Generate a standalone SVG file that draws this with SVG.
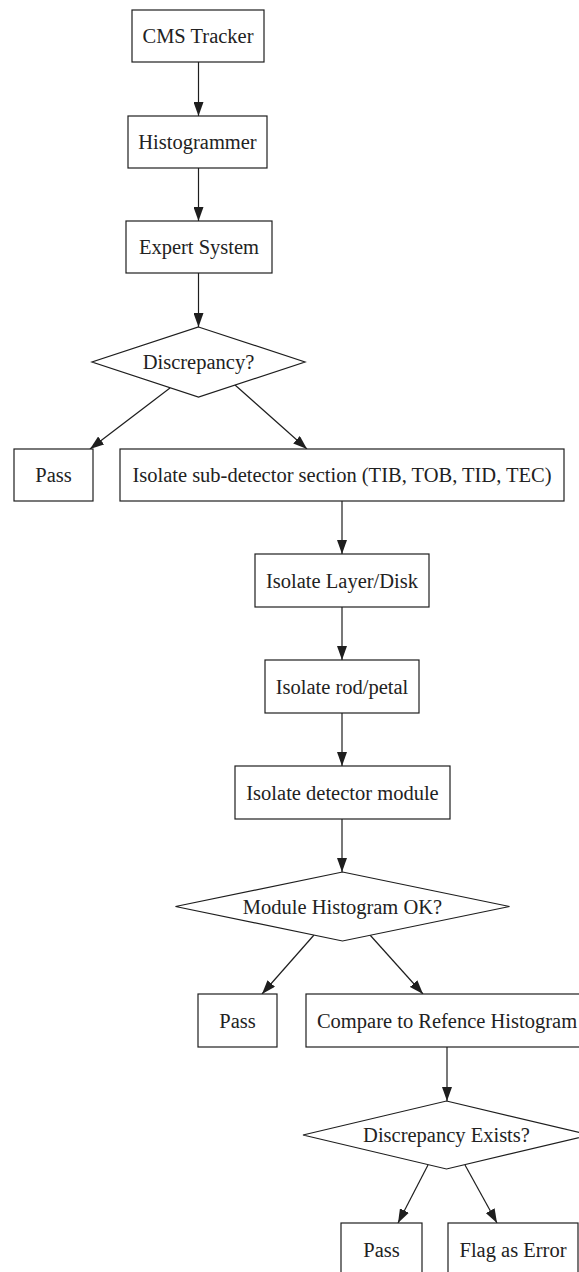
<svg xmlns="http://www.w3.org/2000/svg" width="579" height="1272" viewBox="0 0 579 1272">
  <style>
    .node rect, .node polygon { fill: #ffffff; stroke: #1e1e1e; stroke-width: 1.2; }
    .node text { font-family: "Liberation Serif", "Times New Roman", serif; font-size: 20.5px; fill: #222222; text-anchor: middle; }
    .edges line { stroke: #1e1e1e; stroke-width: 1.2; marker-end: url(#arrow); }
  </style>
  <defs>
    <marker id="arrow" markerUnits="userSpaceOnUse" markerWidth="14" markerHeight="10" refX="14" refY="5" orient="auto">
      <path d="M0,0 L14,5 L0,10 z" fill="#1e1e1e"/>
    </marker>
  </defs>
  <rect width="579" height="1272" fill="#ffffff"/>

  <!-- connectors -->
  <g id="edges" class="edges">
    <line x1="198.5" y1="62" x2="198.5" y2="116"/>
    <line x1="198.5" y1="168" x2="198.5" y2="221"/>
    <line x1="198.5" y1="273" x2="198.5" y2="327"/>
    <line x1="170" y1="388" x2="90" y2="449"/>
    <line x1="235" y1="385" x2="307" y2="449"/>
    <line x1="342" y1="501" x2="342" y2="554"/>
    <line x1="342" y1="607" x2="342" y2="660"/>
    <line x1="342" y1="713" x2="342" y2="766"/>
    <line x1="342" y1="819" x2="342" y2="872"/>
    <line x1="314" y1="935" x2="262" y2="994"/>
    <line x1="370" y1="935" x2="423" y2="994"/>
    <line x1="447" y1="1047" x2="447" y2="1101"/>
    <line x1="428" y1="1165" x2="398" y2="1223"/>
    <line x1="465" y1="1165" x2="497" y2="1223"/>
  </g>

  <!-- nodes -->
  <g id="cms_tracker" class="node">
    <rect x="132" y="10" width="132" height="52"/>
    <text x="198" y="43">CMS Tracker</text>
  </g>
  <g id="histogrammer" class="node">
    <rect x="128" y="116" width="139" height="52"/>
    <text x="197.5" y="149">Histogrammer</text>
  </g>
  <g id="expert_system" class="node">
    <rect x="126" y="221" width="146" height="52"/>
    <text x="199" y="254">Expert System</text>
  </g>
  <g id="discrepancy" class="node">
    <polygon points="198.5,327 305,362 198.5,397 92,362"/>
    <text x="198.5" y="369">Discrepancy?</text>
  </g>
  <g id="pass_1" class="node">
    <rect x="14" y="449" width="79" height="52"/>
    <text x="53.5" y="482">Pass</text>
  </g>
  <g id="isolate_section" class="node">
    <rect x="120" y="449" width="444" height="52"/>
    <text x="342" y="482">Isolate sub-detector section (TIB, TOB, TID, TEC)</text>
  </g>
  <g id="isolate_layer" class="node">
    <rect x="255" y="554" width="174" height="53"/>
    <text x="342" y="587.5">Isolate Layer/Disk</text>
  </g>
  <g id="isolate_rod" class="node">
    <rect x="265" y="660" width="154" height="53"/>
    <text x="342" y="693.5">Isolate rod/petal</text>
  </g>
  <g id="isolate_module" class="node">
    <rect x="235" y="766" width="215" height="53"/>
    <text x="342.5" y="799.5">Isolate detector module</text>
  </g>
  <g id="module_ok" class="node">
    <polygon points="342.5,872 509.5,906.5 342.5,941 175.5,906.5"/>
    <text x="342.5" y="913.5">Module Histogram OK?</text>
  </g>
  <g id="pass_2" class="node">
    <rect x="198" y="994" width="79" height="53"/>
    <text x="237.5" y="1027.5">Pass</text>
  </g>
  <g id="compare_reference" class="node">
    <rect x="306" y="994" width="282" height="53"/>
    <text x="447" y="1027.5">Compare to Refence Histogram</text>
  </g>
  <g id="discrepancy_exists" class="node">
    <polygon points="446.5,1101 590,1135 446.5,1169 303,1135"/>
    <text x="446.5" y="1142">Discrepancy Exists?</text>
  </g>
  <g id="pass_3" class="node">
    <rect x="341" y="1223" width="81" height="53"/>
    <text x="381.5" y="1256.5">Pass</text>
  </g>
  <g id="flag_error" class="node">
    <rect x="448" y="1223" width="130" height="53"/>
    <text x="513" y="1256.5">Flag as Error</text>
  </g>
</svg>
